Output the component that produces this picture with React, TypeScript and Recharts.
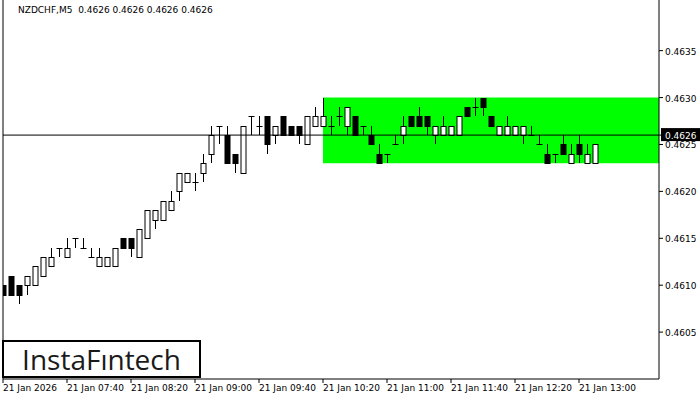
import React from "react";
import {
  ComposedChart,
  Bar,
  XAxis,
  YAxis,
  ReferenceArea,
  ReferenceLine,
} from "recharts";

// 5-minute candles, 21 Jan 2026, from 07:00
const opens = [
  0.4610, 0.4611, 0.4610, 0.4610, 0.4610, 0.4611, 0.4612, 0.4614, 0.4613, 0.4615,
  0.4614, 0.4613, 0.4612, 0.4612, 0.4612, 0.4615, 0.4615, 0.4613, 0.4615, 0.4617,
  0.4617, 0.4618, 0.4620, 0.4621, 0.4621, 0.4622, 0.4624, 0.4627, 0.4626, 0.4624,
  0.4622, 0.4628, 0.4627, 0.4628, 0.4626, 0.4628, 0.4627, 0.4627, 0.4625, 0.4627,
  0.4627, 0.4627, 0.4628, 0.4627, 0.4628, 0.4627, 0.4626, 0.4624, 0.4624, 0.4625,
  0.4626, 0.4628, 0.4628, 0.4628, 0.4626, 0.4626, 0.4626, 0.4626, 0.4629, 0.4629,
  0.4630, 0.4628, 0.4626, 0.4626, 0.4626, 0.4626, 0.4626, 0.4625, 0.4624, 0.4624,
  0.4625, 0.4623, 0.4625, 0.4623, 0.4623,
];
const highs = [
  0.4610, 0.4611, 0.4610, 0.4611, 0.4612, 0.4613, 0.4614, 0.4614, 0.4615, 0.4615,
  0.4615, 0.4614, 0.4614, 0.4613, 0.4614, 0.4615, 0.4615, 0.4616, 0.4618, 0.4618,
  0.4619, 0.4620, 0.4622, 0.4622, 0.4622, 0.4624, 0.4627, 0.4627, 0.4627, 0.4624,
  0.4627, 0.4628, 0.4628, 0.4628, 0.4627, 0.4628, 0.4627, 0.4627, 0.4628, 0.4629,
  0.4630, 0.4628, 0.4629, 0.4629, 0.4628, 0.4627, 0.4627, 0.4625, 0.4624, 0.4626,
  0.4628, 0.4628, 0.4629, 0.4628, 0.4627, 0.4628, 0.4627, 0.4628, 0.4629, 0.4630,
  0.4630, 0.4628, 0.4627, 0.4628, 0.4627, 0.4627, 0.4627, 0.4626, 0.4625, 0.4624,
  0.4626, 0.4625, 0.4626, 0.4625, 0.4625,
];
const lows = [
  0.4609, 0.4609, 0.4608, 0.4609, 0.4610, 0.4611, 0.4612, 0.4613, 0.4613, 0.4614,
  0.4614, 0.4613, 0.4612, 0.4612, 0.4612, 0.4614, 0.4613, 0.4613, 0.4615, 0.4616,
  0.4617, 0.4618, 0.4619, 0.4621, 0.4620, 0.4621, 0.4623, 0.4625, 0.4623, 0.4622,
  0.4622, 0.4626, 0.4626, 0.4624, 0.4625, 0.4626, 0.4626, 0.4625, 0.4625, 0.4627,
  0.4627, 0.4626, 0.4627, 0.4626, 0.4626, 0.4626, 0.4625, 0.4623, 0.4623, 0.4625,
  0.4625, 0.4627, 0.4627, 0.4626, 0.4625, 0.4626, 0.4626, 0.4626, 0.4628, 0.4628,
  0.4628, 0.4627, 0.4626, 0.4626, 0.4626, 0.4625, 0.4626, 0.4625, 0.4623, 0.4623,
  0.4624, 0.4623, 0.4623, 0.4623, 0.4623,
];
const closes = [
  0.4609, 0.4609, 0.4609, 0.4611, 0.4612, 0.4613, 0.4613, 0.4614, 0.4614, 0.4615,
  0.4614, 0.4613, 0.4613, 0.4613, 0.4614, 0.4614, 0.4614, 0.4616, 0.4618, 0.4618,
  0.4619, 0.4619, 0.4622, 0.4622, 0.4621, 0.4623, 0.4626, 0.4627, 0.4623, 0.4623,
  0.4627, 0.4628, 0.4627, 0.4625, 0.4627, 0.4626, 0.4626, 0.4626, 0.4628, 0.4628,
  0.4628, 0.4627, 0.4628, 0.4629, 0.4626, 0.4627, 0.4625, 0.4623, 0.4624, 0.4625,
  0.4627, 0.4627, 0.4627, 0.4627, 0.4627, 0.4627, 0.4627, 0.4628, 0.4628, 0.4629,
  0.4629, 0.4627, 0.4627, 0.4627, 0.4627, 0.4627, 0.4626, 0.4625, 0.4623, 0.4624,
  0.4624, 0.4624, 0.4624, 0.4624, 0.4625,
];

const timeTicks = [0, 8, 16, 24, 32, 40, 48, 56, 64, 72];
const timeLabels = [
  "21 Jan 2026", "21 Jan 07:40", "21 Jan 08:20", "21 Jan 09:00", "21 Jan 09:40",
  "21 Jan 10:20", "21 Jan 11:00", "21 Jan 11:40", "21 Jan 12:20", "21 Jan 13:00",
];
const priceTicks = [0.4605, 0.461, 0.4615, 0.462, 0.4625, 0.463, 0.4635];
const lastPrice = 0.4626;

// flat range pattern
const rangeStart = 40;
const rangeTop = 0.463;
const rangeBottom = 0.4623;

const SLOTS = 82;
const FONT = "'DejaVu Sans', Tahoma, sans-serif";

const data = opens.map((o, i) => ({
  i,
  open: o,
  high: highs[i],
  low: lows[i],
  close: closes[i],
  range: [lows[i], highs[i]],
}));

function Candle(props: any) {
  const { x, y, width, height, payload } = props;
  if (x == null || y == null) return null;
  const { open, close, high, low } = payload;
  const span = high - low;
  const py = (v: number) => (span > 0 ? y + ((high - v) / span) * height : y);
  const cx = Math.round(x + width / 2) + 0.5;
  const top = Math.round(py(Math.max(open, close)));
  const bot = Math.round(py(Math.min(open, close)));
  const bw = 5;
  const left = cx - 2.5;
  return (
    <g>
      <line x1={cx} x2={cx} y1={Math.round(y)} y2={Math.round(y + height)} stroke="#000" strokeWidth={1} />
      {open === close ? (
        <line x1={left - 0.5} x2={left + bw + 0.5} y1={top + 0.5} y2={top + 0.5} stroke="#000" strokeWidth={1} />
      ) : (
        <rect
          x={left}
          y={top + 0.5}
          width={bw}
          height={Math.max(bot - top, 1)}
          fill={close > open ? "#fff" : "#000"}
          stroke="#000"
          strokeWidth={1}
        />
      )}
    </g>
  );
}

function TimeTick(props: any) {
  const { x, y, payload } = props;
  const idx = timeTicks.indexOf(payload.value);
  return (
    <text x={x} y={y} dy={6} textAnchor="start" fontSize={9} fontFamily={FONT} fill="#000">
      {timeLabels[idx]}
    </text>
  );
}

function PriceTick(props: any) {
  const { x, y, payload } = props;
  const label = payload.value.toFixed(4);
  if (Math.abs(payload.value - lastPrice) < 1e-9) {
    return (
      <g>
        <rect x={x - 4} y={y - 7} width={39} height={13} fill="#000" />
        <text x={x} y={y} dy={4} textAnchor="start" fontSize={9} fontFamily={FONT} fill="#fff">
          {label}
        </text>
      </g>
    );
  }
  return (
    <text x={x} y={y} dy={4} textAnchor="start" fontSize={9} fontFamily={FONT} fill="#000">
      {label}
    </text>
  );
}

export default function App() {
  return (
    <div style={{ position: "absolute", left: 0, top: 0, width: 700, height: 400, background: "#fff" }}>
      <ComposedChart
        width={700}
        height={400}
        data={data}
        margin={{ top: 0, right: 0, bottom: 0, left: 3 }}
      >
        <XAxis
          type="number"
          dataKey="i"
          domain={[0, SLOTS]}
          ticks={timeTicks}
          tick={<TimeTick />}
          tickSize={4}
          height={21}
          stroke="#000"
          allowDataOverflow
          interval={0}
        />
        <YAxis
          orientation="right"
          domain={[0.46, 0.46404]}
          ticks={[...priceTicks, lastPrice]}
          tick={<PriceTick />}
          tickSize={4}
          width={41}
          stroke="#000"
          allowDataOverflow
          interval={0}
        />
        <ReferenceArea
          x1={rangeStart}
          x2={SLOTS}
          y1={rangeBottom}
          y2={rangeTop}
          fill="#00ff00"
          fillOpacity={1}
          stroke="none"
        />
        <ReferenceLine y={lastPrice} stroke="#000" strokeWidth={1} />
        <ReferenceLine x={0} stroke="#000" strokeWidth={1} />
        <Bar dataKey="range" barSize={6} shape={<Candle />} isAnimationActive={false} />
      </ComposedChart>
      <div
        style={{
          position: "absolute",
          left: 18,
          top: 5,
          fontFamily: FONT,
          fontSize: 9,
          color: "#000",
          whiteSpace: "pre",
        }}
      >
        {"NZDCHF,M5  0.4626 0.4626 0.4626 0.4626"}
      </div>
      <div
        style={{
          position: "absolute",
          left: 2,
          top: 340,
          width: 199,
          height: 38,
          boxSizing: "border-box",
          border: "2px solid #000",
          background: "#fff",
          display: "flex",
          alignItems: "center",
          justifyContent: "center",
          fontFamily: "'Open Sans', sans-serif",
          fontSize: 28,
          fontWeight: 400,
          color: "#1a1a1a",
        }}
      >
        InstaFıntech
      </div>
    </div>
  );
}
